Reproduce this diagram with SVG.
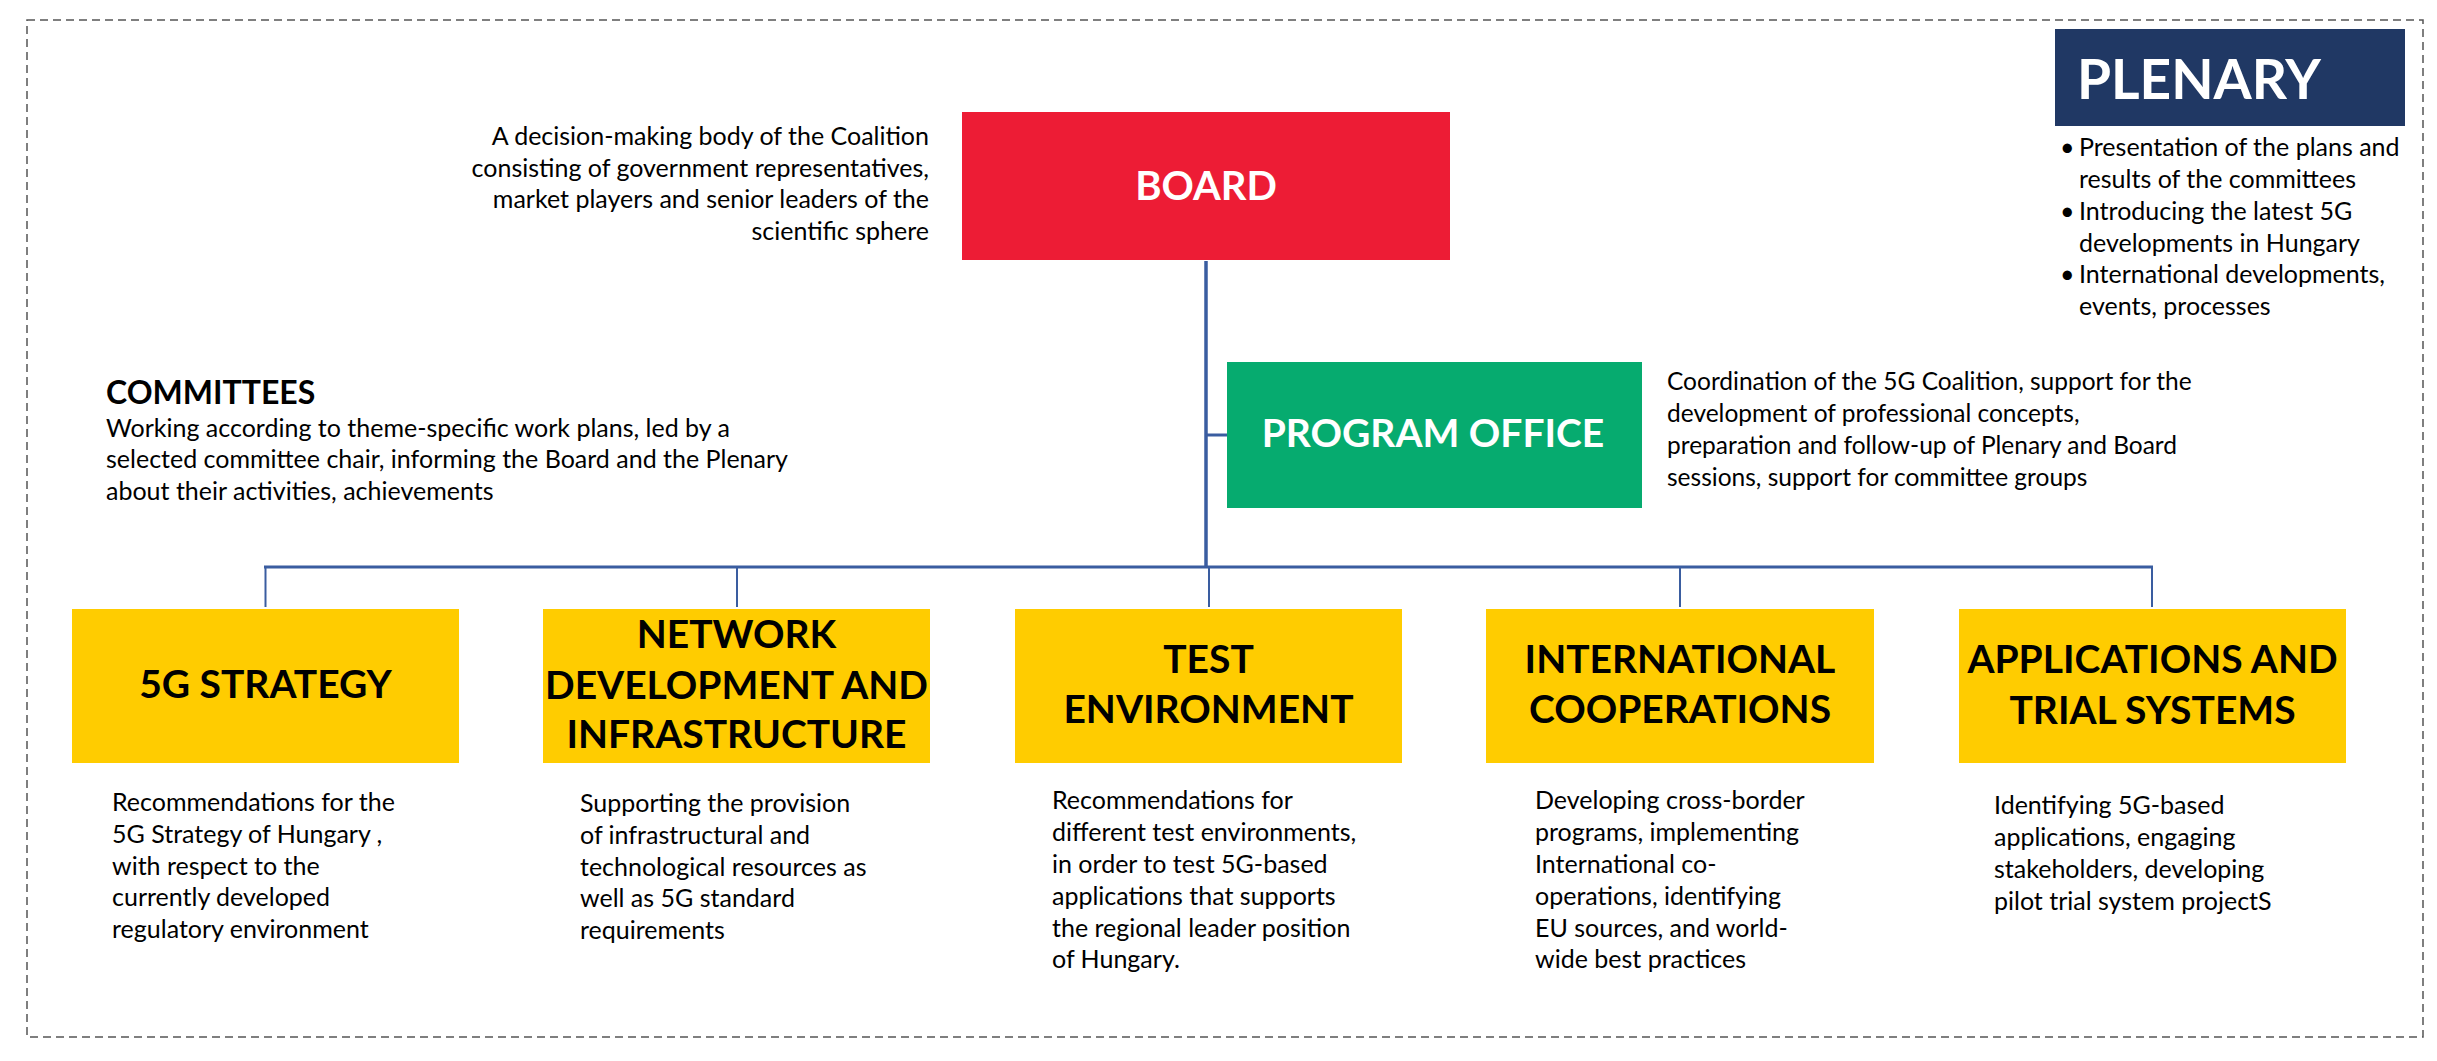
<svg xmlns="http://www.w3.org/2000/svg" width="2437" height="1061" viewBox="0 0 2437 1061">
<style>
.t{font-family:Lato,"Liberation Sans",sans-serif;font-size:25px;fill:#000}
.p{font-family:Lato,"Liberation Sans",sans-serif;font-size:24.5px;fill:#000}
.h{font-family:Lato,"Liberation Sans",sans-serif;font-weight:bold;fill:#fff;text-anchor:middle}
.y{font-family:Lato,"Liberation Sans",sans-serif;font-weight:bold;font-size:39px;fill:#000;text-anchor:middle}
.c{stroke:#3A5DA0;fill:none}
</style>
<rect width="2437" height="1061" fill="#fff"/>
<rect x="27" y="20" width="2396" height="1017" fill="none" stroke="#555" stroke-width="1.5" stroke-dasharray="8 5"/>
<g id="connectors">
<line class="c" x1="1206" y1="261" x2="1206" y2="568" stroke-width="3.5"/>
<line class="c" x1="1206" y1="435" x2="1227" y2="435" stroke-width="3"/>
<line class="c" x1="264" y1="567" x2="2153" y2="567" stroke-width="3"/>
<line class="c" x1="265.5" y1="567" x2="265.5" y2="607" stroke-width="2"/>
<line class="c" x1="737" y1="567" x2="737" y2="607" stroke-width="2"/>
<line class="c" x1="1209" y1="567" x2="1209" y2="607" stroke-width="2"/>
<line class="c" x1="1680" y1="567" x2="1680" y2="607" stroke-width="2"/>
<line class="c" x1="2152" y1="567" x2="2152" y2="607" stroke-width="2"/>
</g>
<g id="board">
<rect x="962" y="112" width="488" height="148" fill="#ED1C35"/>
<text class="h" x="1206" y="200" font-size="40">BOARD</text>
<text class="t" text-anchor="end"><tspan x="929" y="145">A decision-making body of the Coalition</tspan><tspan x="929" y="177">consisting of government representatives,</tspan><tspan x="929" y="208">market players and senior leaders of the</tspan><tspan x="929" y="240">scientific sphere</tspan></text>
</g>
<g id="plenary">
<rect x="2055" y="29" width="350" height="97" fill="#203864"/>
<text class="h" x="2077" y="99" font-size="55" style="text-anchor:start">PLENARY</text>
<text class="t"><tspan x="2060" y="156">•</tspan><tspan x="2079" y="156">Presentation of the plans and</tspan><tspan x="2079" y="188">results of the committees</tspan><tspan x="2060" y="220">•</tspan><tspan x="2079" y="220">Introducing the latest 5G</tspan><tspan x="2079" y="252">developments in Hungary</tspan><tspan x="2060" y="283">•</tspan><tspan x="2079" y="283">International developments,</tspan><tspan x="2079" y="315">events, processes</tspan></text>
</g>
<g id="program-office">
<rect x="1227" y="362" width="415" height="146" fill="#06AB6F"/>
<text class="h" x="1433" y="447" font-size="39">PROGRAM OFFICE</text>
<text class="p"><tspan x="1667" y="390">Coordination of the 5G Coalition, support for the</tspan><tspan x="1667" y="422">development of professional concepts,</tspan><tspan x="1667" y="454">preparation and follow-up of Plenary and Board</tspan><tspan x="1667" y="486">sessions, support for committee groups</tspan></text>
</g>
<g id="committees">
<text x="106" y="404" font-family="Lato, 'Liberation Sans', sans-serif" font-weight="bold" font-size="32">COMMITTEES</text>
<text class="t"><tspan x="106" y="437">Working according to theme-specific work plans, led by a</tspan><tspan x="106" y="468">selected committee chair, informing the Board and the Plenary</tspan><tspan x="106" y="500">about their activities, achievements</tspan></text>
</g>
<g id="strategy">
<rect x="72" y="609" width="387" height="154" fill="#FFCC00"/>
<text class="y" x="265.5" y="698">5G STRATEGY</text>
<text class="t"><tspan x="112" y="811">Recommendations for the</tspan><tspan x="112" y="843">5G Strategy of Hungary ,</tspan><tspan x="112" y="875">with respect to the</tspan><tspan x="112" y="906">currently developed</tspan><tspan x="112" y="938">regulatory environment</tspan></text>
</g>
<g id="network">
<rect x="543" y="609" width="387" height="154" fill="#FFCC00"/>
<text class="y"><tspan x="736.5" y="648">NETWORK</tspan><tspan x="736.5" y="699">DEVELOPMENT AND</tspan><tspan x="736.5" y="748">INFRASTRUCTURE</tspan></text>
<text class="t"><tspan x="580" y="812">Supporting the provision</tspan><tspan x="580" y="844">of infrastructural and</tspan><tspan x="580" y="876">technological resources as</tspan><tspan x="580" y="907">well as 5G standard</tspan><tspan x="580" y="939">requirements</tspan></text>
</g>
<g id="test">
<rect x="1015" y="609" width="387" height="154" fill="#FFCC00"/>
<text class="y"><tspan x="1208.5" y="673">TEST</tspan><tspan x="1208.5" y="723">ENVIRONMENT</tspan></text>
<text class="t"><tspan x="1052" y="809">Recommendations for</tspan><tspan x="1052" y="841">different test environments,</tspan><tspan x="1052" y="873">in order to test 5G-based</tspan><tspan x="1052" y="905">applications that supports</tspan><tspan x="1052" y="937">the regional leader position</tspan><tspan x="1052" y="968">of Hungary.</tspan></text>
</g>
<g id="international">
<rect x="1486" y="609" width="388" height="154" fill="#FFCC00"/>
<text class="y"><tspan x="1680" y="673">INTERNATIONAL</tspan><tspan x="1680" y="723">COOPERATIONS</tspan></text>
<text class="t"><tspan x="1535" y="809">Developing cross-border</tspan><tspan x="1535" y="841">programs, implementing</tspan><tspan x="1535" y="873">International co-</tspan><tspan x="1535" y="905">operations, identifying</tspan><tspan x="1535" y="937">EU sources, and world-</tspan><tspan x="1535" y="968">wide best practices</tspan></text>
</g>
<g id="applications">
<rect x="1959" y="609" width="387" height="154" fill="#FFCC00"/>
<text class="y"><tspan x="2152.5" y="673">APPLICATIONS AND</tspan><tspan x="2152.5" y="724">TRIAL SYSTEMS</tspan></text>
<text class="t"><tspan x="1994" y="814">Identifying 5G-based</tspan><tspan x="1994" y="846">applications, engaging</tspan><tspan x="1994" y="878">stakeholders, developing</tspan><tspan x="1994" y="910">pilot trial system projectS</tspan></text>
</g>
</svg>
